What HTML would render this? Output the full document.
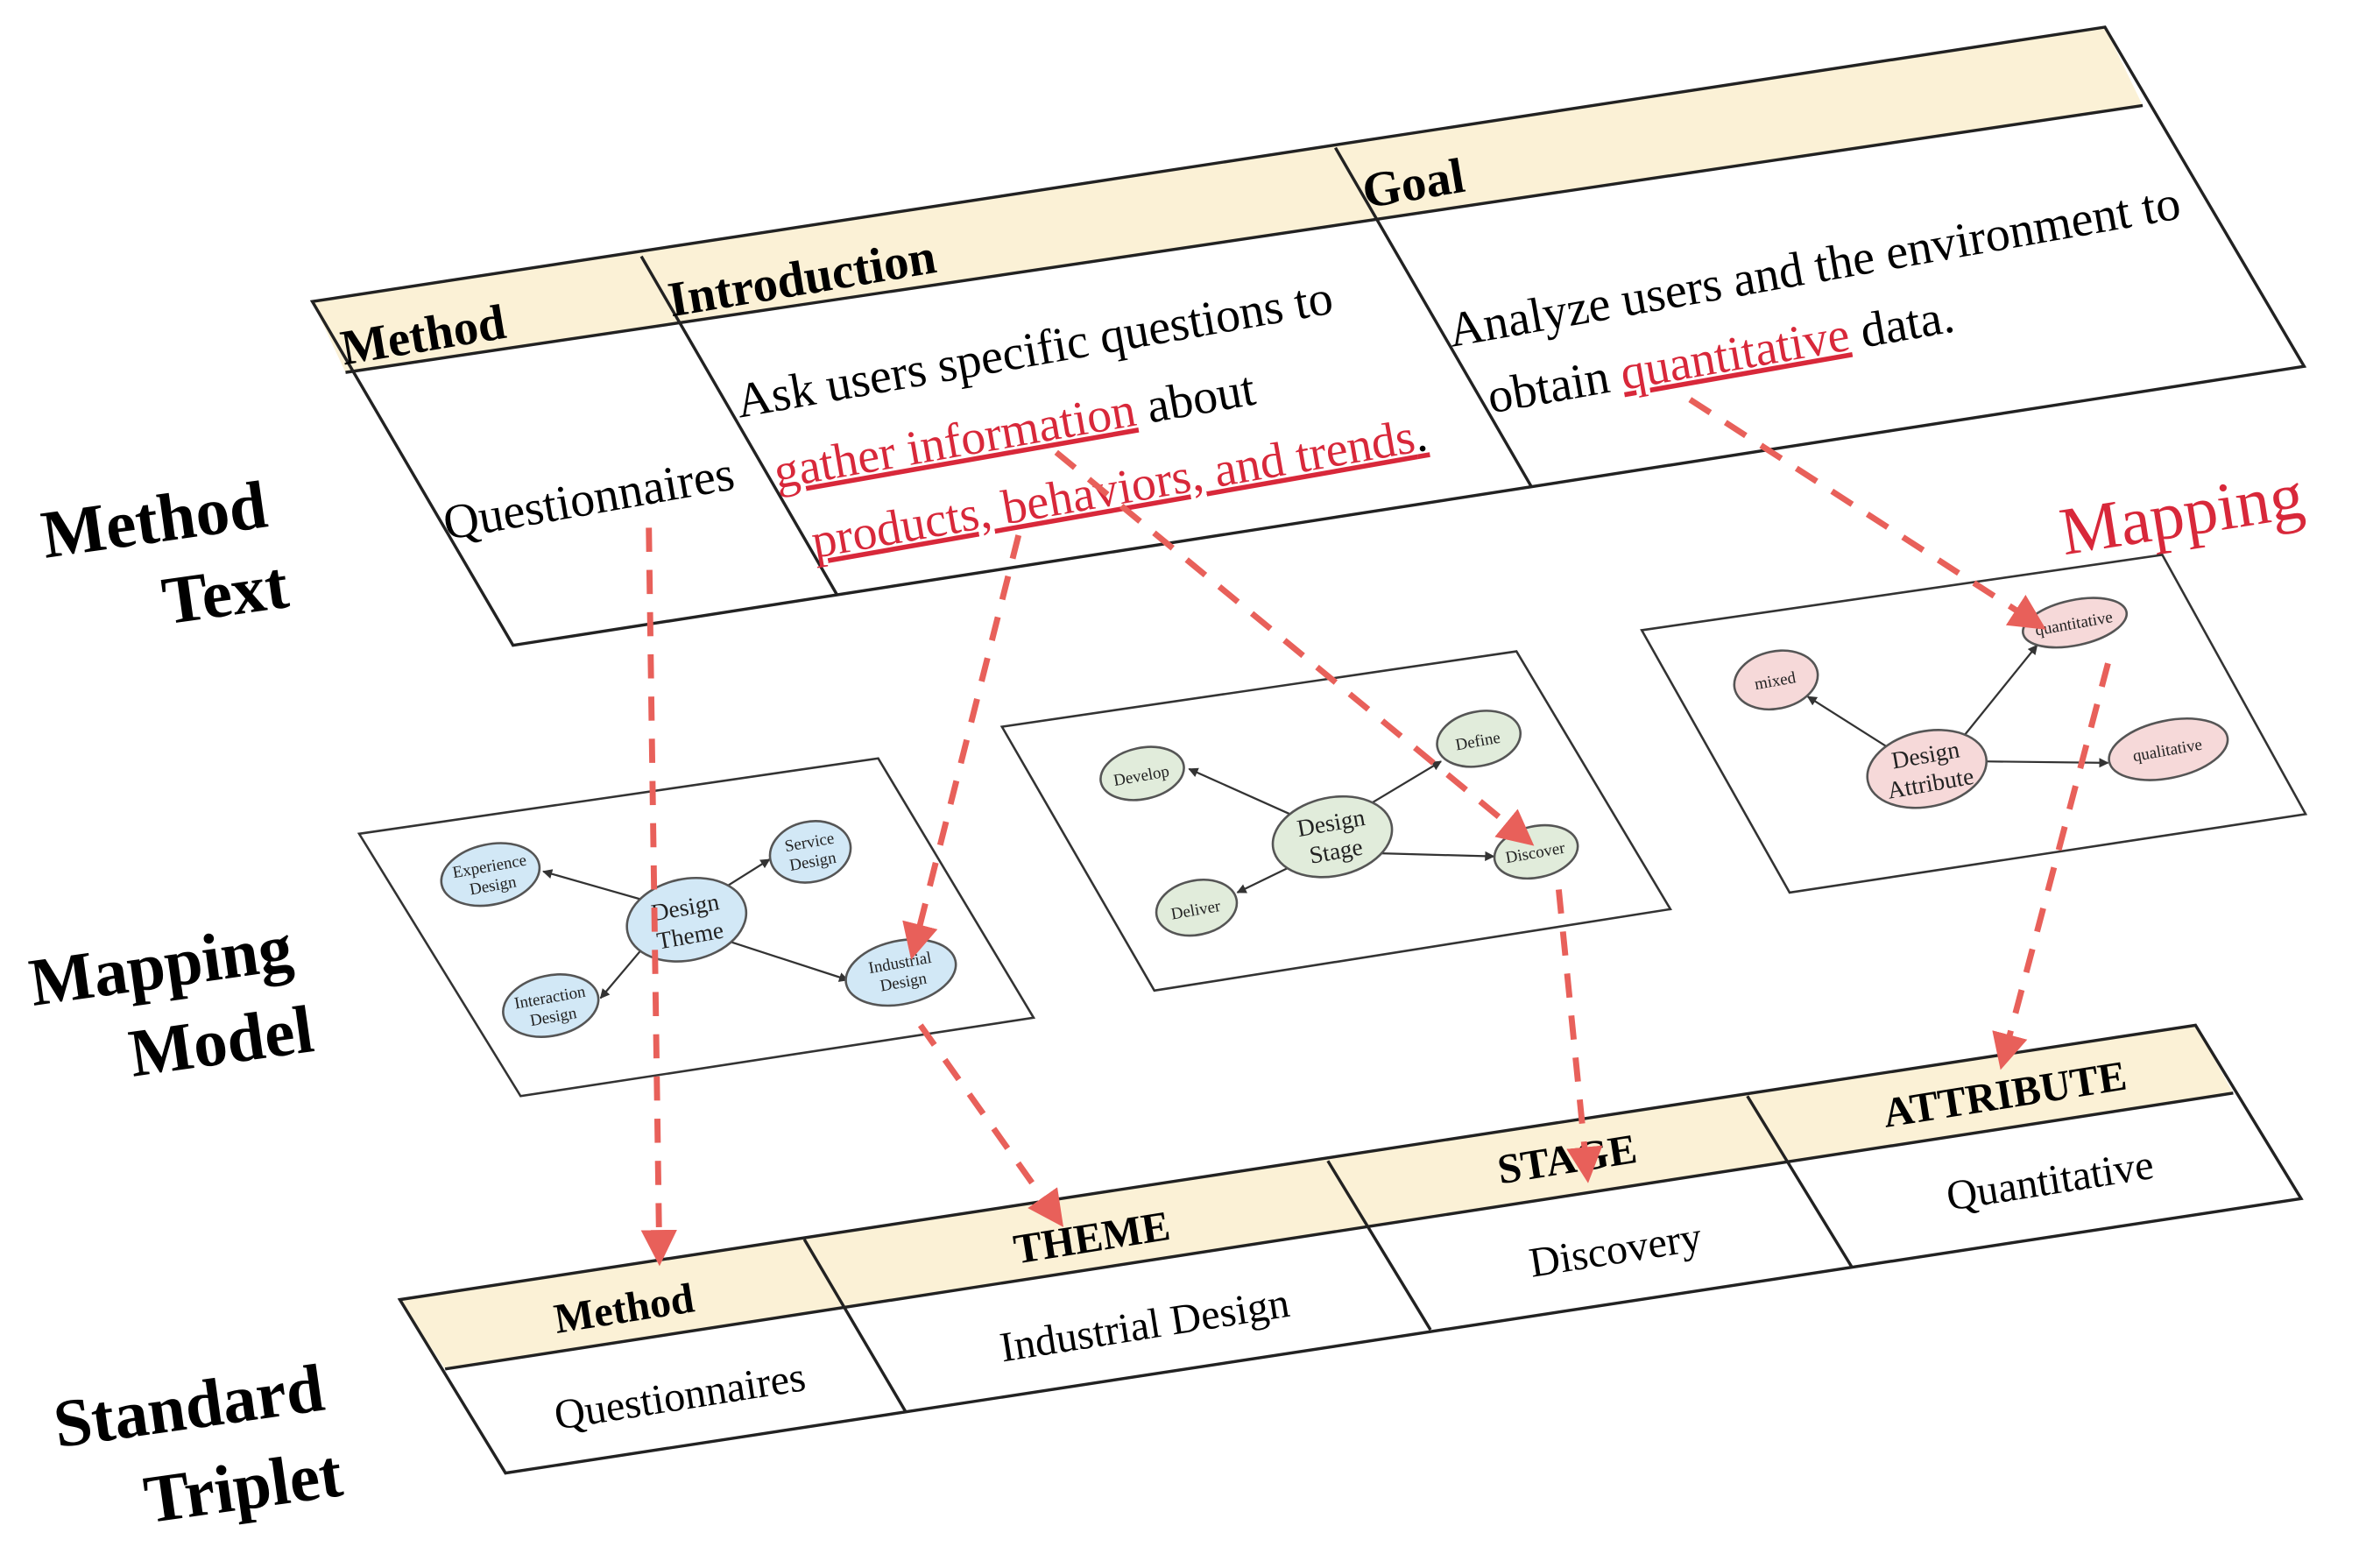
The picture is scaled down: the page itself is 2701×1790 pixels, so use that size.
<!DOCTYPE html>
<html><head><meta charset="utf-8"><style>
html,body{margin:0;padding:0;background:#fff;}
svg{display:block;}
text{font-family:"Liberation Serif",serif;}
</style></head><body>
<svg width="2701" height="1790" viewBox="0 0 1568 1040" preserveAspectRatio="none" xmlns="http://www.w3.org/2000/svg">
<defs>
<marker id="ar" viewBox="0 0 10 10" refX="8" refY="5" markerWidth="6" markerHeight="6" orient="auto"><path d="M0,0 L10,5 L0,10 z" fill="#e8605a"/></marker>
<marker id="bk" viewBox="0 0 10 10" refX="9" refY="5" markerWidth="5" markerHeight="5" orient="auto"><path d="M0,0 L10,5 L0,10 z" fill="#333"/></marker>
</defs>

<!-- Top table -->
<polygon points="207,200 1395,18 1420,70 229,247" fill="#fbf1d6"/>
<polygon points="207,200 1395,18 1527,243 340,428" fill="none" stroke="#222" stroke-width="2"/>
<line x1="229" y1="247" x2="1420" y2="70" stroke="#222" stroke-width="2"/>
<line x1="425" y1="170" x2="555" y2="395" stroke="#222" stroke-width="2"/>
<line x1="885" y1="98" x2="1015" y2="323" stroke="#222" stroke-width="2"/>
<g font-size="33" font-weight="bold">
<text transform="translate(228,242) rotate(-9.5)">Method</text>
<text transform="translate(445,210) rotate(-9.5)">Introduction</text>
<text transform="translate(905,138) rotate(-9.5)">Goal</text>
</g>
<g font-size="32.5">
<text transform="translate(296,358) rotate(-10)">Questionnaires</text>
<text transform="translate(490,277) rotate(-10)">Ask users specific questions to</text>
<text transform="translate(515,324) rotate(-10)"><tspan fill="#d8283a" text-decoration="underline">gather information</tspan> about</text>
<text transform="translate(540,370) rotate(-10)" fill="#d8283a" text-decoration="underline">products, behaviors, and trends<tspan fill="#000">.</tspan></text>
<text transform="translate(962,230) rotate(-10)">Analyze users and the environment to</text>
<text transform="translate(988,274) rotate(-10)">obtain <tspan fill="#d8283a" text-decoration="underline">quantitative</tspan> data.</text>
</g>

<!-- Side labels -->
<g font-size="45" font-weight="bold">
<text transform="translate(30,370) rotate(-8)">Method</text>
<text transform="translate(110,414) rotate(-8)">Text</text>
<text transform="translate(22,667) rotate(-8)">Mapping</text>
<text transform="translate(88,714) rotate(-8)">Model</text>
<text transform="translate(38,960) rotate(-8)">Standard</text>
<text transform="translate(98,1010) rotate(-8)">Triplet</text>
</g>
<text transform="translate(1368,368) rotate(-9)" font-size="45" fill="#d8283a">Mapping</text>

<!-- Panels -->
<g fill="#fff" stroke="#333" stroke-width="1.5">
<polygon points="238,553 582,503 685,675 345,727"/>
<polygon points="664,482 1005,432 1107,603 765,657"/>
<polygon points="1088,418 1433,368 1528,540 1186,592"/>
</g>

<g stroke="#333" stroke-width="1.3" marker-end="url(#bk)">
<line x1="430" y1="598" x2="360" y2="578"/>
<line x1="475" y1="592" x2="510" y2="570"/>
<line x1="425" y1="630" x2="398" y2="662"/>
<line x1="485" y1="625" x2="562" y2="650"/>
<line x1="855" y1="540" x2="788" y2="510"/>
<line x1="905" y1="535" x2="955" y2="505"/>
<line x1="855" y1="575" x2="820" y2="592"/>
<line x1="915" y1="566" x2="990" y2="568"/>
<line x1="1250" y1="495" x2="1198" y2="462"/>
<line x1="1300" y1="490" x2="1350" y2="428"/>
<line x1="1315" y1="505" x2="1397" y2="506"/>
</g>
<g stroke="#555" stroke-width="1.5">
<g fill="#d2e8f6">
<ellipse cx="325" cy="580" rx="33" ry="20" transform="rotate(-12 325 580)"/>
<ellipse cx="537" cy="565" rx="27" ry="20" transform="rotate(-12 537 565)"/>
<ellipse cx="455" cy="610" rx="40" ry="27" transform="rotate(-12 455 610)"/>
<ellipse cx="365" cy="667" rx="32" ry="20" transform="rotate(-12 365 667)"/>
<ellipse cx="597" cy="645" rx="37" ry="21" transform="rotate(-12 597 645)"/>
</g>
<g fill="#e1ecdb">
<ellipse cx="757" cy="513" rx="28" ry="17" transform="rotate(-12 757 513)"/>
<ellipse cx="980" cy="490" rx="28" ry="18" transform="rotate(-12 980 490)"/>
<ellipse cx="883" cy="555" rx="40" ry="26" transform="rotate(-12 883 555)"/>
<ellipse cx="793" cy="602" rx="27" ry="18" transform="rotate(-12 793 602)"/>
<ellipse cx="1018" cy="565" rx="28" ry="17" transform="rotate(-12 1018 565)"/>
</g>
<g fill="#f6d9d9">
<ellipse cx="1177" cy="451" rx="28" ry="19" transform="rotate(-12 1177 451)"/>
<ellipse cx="1375" cy="413" rx="35" ry="15" transform="rotate(-12 1375 413)"/>
<ellipse cx="1277" cy="510" rx="40" ry="25" transform="rotate(-12 1277 510)"/>
<ellipse cx="1437" cy="497" rx="40" ry="19" transform="rotate(-12 1437 497)"/>
</g>
</g>
<g font-size="11" text-anchor="middle" fill="#222">
<text transform="translate(325,578) rotate(-10)">Experience<tspan x="0" dy="13">Design</tspan></text>
<text transform="translate(537,562) rotate(-10)">Service<tspan x="0" dy="13">Design</tspan></text>
<text transform="translate(365,665) rotate(-10)">Interaction<tspan x="0" dy="13">Design</tspan></text>
<text transform="translate(597,642) rotate(-10)">Industrial<tspan x="0" dy="13">Design</tspan></text>
<text transform="translate(757,518) rotate(-10)">Develop</text>
<text transform="translate(980,495) rotate(-10)">Define</text>
<text transform="translate(793,607) rotate(-10)">Deliver</text>
<text transform="translate(1018,569) rotate(-10)">Discover</text>
<text transform="translate(1177,455) rotate(-10)">mixed</text>
<text transform="translate(1375,417) rotate(-10)">quantitative</text>
<text transform="translate(1437,501) rotate(-10)">qualitative</text>
</g>
<g font-size="16" text-anchor="middle" fill="#222">
<text transform="translate(455,607) rotate(-10)">Design<tspan x="0" dy="19">Theme</tspan></text>
<text transform="translate(883,551) rotate(-10)">Design<tspan x="0" dy="19">Stage</tspan></text>
<text transform="translate(1277,506) rotate(-10)">Design<tspan x="0" dy="19">Attribute</tspan></text>
</g>

<!-- Bottom table -->
<polygon points="265,862 1455,680 1480,725 295,908" fill="#fbf1d6"/>
<polygon points="265,862 1455,680 1525,795 335,977" fill="none" stroke="#222" stroke-width="2"/>
<line x1="295" y1="908" x2="1480" y2="725" stroke="#222" stroke-width="2"/>
<line x1="533" y1="822" x2="600" y2="936" stroke="#222" stroke-width="2"/>
<line x1="880" y1="770" x2="948" y2="882" stroke="#222" stroke-width="2"/>
<line x1="1158" y1="727" x2="1227" y2="840" stroke="#222" stroke-width="2"/>
<g font-size="28" font-weight="bold" text-anchor="middle">
<text transform="translate(415,877) rotate(-9)">Method</text>
<text transform="translate(725,830) rotate(-9)">THEME</text>
<text transform="translate(1040,778) rotate(-9)">STAGE</text>
<text transform="translate(1330,735) rotate(-9)">ATTRIBUTE</text>
</g>
<g font-size="28" text-anchor="middle">
<text transform="translate(452,935) rotate(-9)">Questionnaires</text>
<text transform="translate(760,888) rotate(-9)">Industrial Design</text>
<text transform="translate(1072,838) rotate(-9)">Discovery</text>
<text transform="translate(1360,792) rotate(-9)">Quantitative</text>
</g>

<g stroke="#e8605a" stroke-width="4" stroke-dasharray="16,12" fill="none" marker-end="url(#ar)">
<line x1="430" y1="350" x2="437" y2="835"/>
<line x1="675" y1="355" x2="605" y2="632"/>
<line x1="700" y1="300" x2="1013" y2="558"/>
<line x1="1120" y1="265" x2="1352" y2="415"/>
<line x1="610" y1="680" x2="702" y2="810"/>
<line x1="1033" y1="590" x2="1052" y2="780"/>
<line x1="1397" y1="440" x2="1327" y2="705"/>
</g>
</svg>
</body></html>
